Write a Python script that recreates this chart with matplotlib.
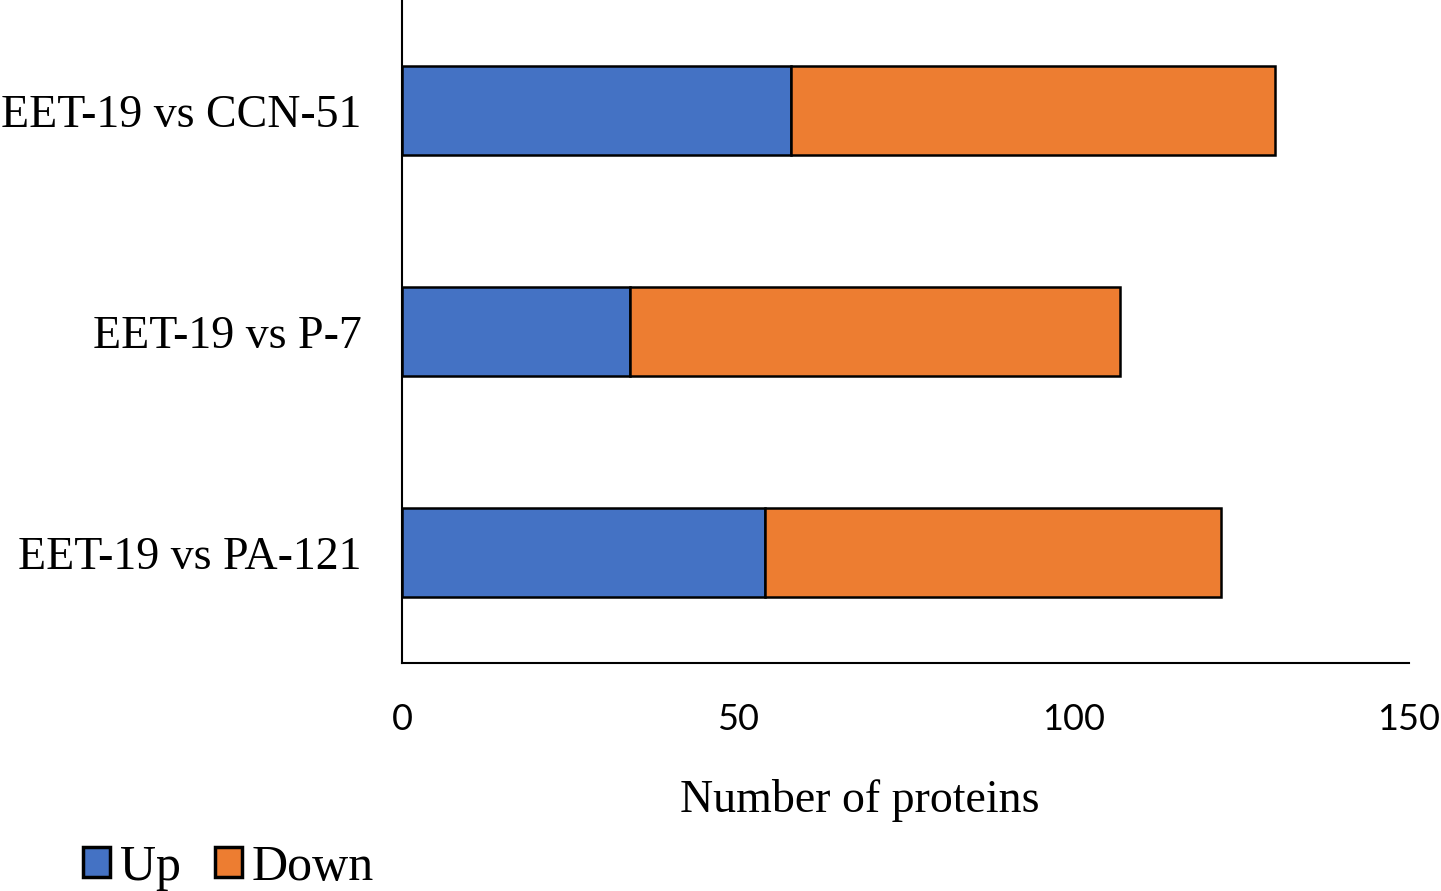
import matplotlib.pyplot as plt
import numpy as np

categories = ["EET-19 vs CCN-51", "EET-19 vs P-7", "EET-19 vs PA-121"]
up_values = [58, 34, 54]
down_values = [72, 73, 68]
x_ticks = [0, 50, 100, 150]

UP_COLOR = "#4472C4"
DOWN_COLOR = "#ED7D31"
SERIF = ["Liberation Serif", "DejaVu Serif"]

fig = plt.figure(figsize=(14.41, 8.91), dpi=100)
ax = fig.add_axes([0.279, 0.2559, 0.6988, 0.7441])

y = np.arange(len(categories))
ax.barh(y, up_values, height=0.4, color=UP_COLOR, edgecolor="black",
        linewidth=1.8, label="Up")
ax.barh(y, down_values, left=up_values, height=0.4, color=DOWN_COLOR,
        edgecolor="black", linewidth=1.8, label="Down")

ax.set_ylim(len(categories) - 0.5, -0.5)
ax.set_xlim(0, 150)
ax.set_yticks(y)
ax.set_yticklabels(categories, fontsize=33, family=SERIF)
ax.set_xticks(x_ticks)
ax.set_xticklabels([str(t) for t in x_ticks], fontsize=26, family="Lato")
ax.tick_params(axis="both", length=0)
ax.tick_params(axis="y", pad=29)
ax.tick_params(axis="x", pad=29)

ax.spines["top"].set_visible(False)
ax.spines["right"].set_visible(False)
ax.spines["left"].set_linewidth(1.5)
ax.spines["bottom"].set_linewidth(1.5)

ax.set_xlabel("Number of proteins", fontsize=33, family=SERIF)
ax.xaxis.set_label_coords(0.455, -0.175)

leg = fig.legend(loc="lower left", bbox_to_anchor=(0.0576, 0.0), ncol=2,
                 frameon=False, prop={"family": SERIF, "size": 36},
                 borderpad=0, borderaxespad=0,
                 handlelength=0.54, handleheight=0.54, handletextpad=0.2,
                 columnspacing=0.68)
for h in leg.legend_handles:
    h.set_linewidth(2.5)

fig.savefig("out.png", dpi=100)
